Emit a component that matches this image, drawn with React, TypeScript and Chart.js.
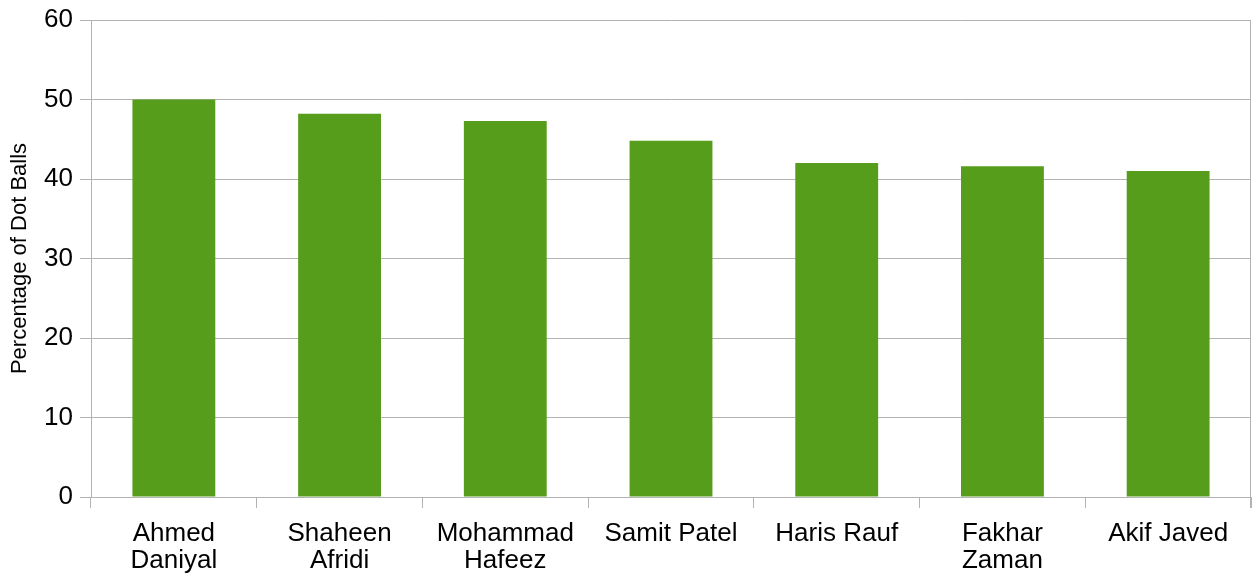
import React, { useEffect, useRef } from "react";
import { Chart, registerables } from "chart.js";

Chart.register(...registerables);

const categories: string[][] = [
  ["Ahmed", "Daniyal"],
  ["Shaheen", "Afridi"],
  ["Mohammad", "Hafeez"],
  ["Samit Patel"],
  ["Haris Rauf"],
  ["Fakhar", "Zaman"],
  ["Akif Javed"],
];
const dotBallPct: number[] = [50.0, 48.2, 47.3, 44.8, 42.0, 41.6, 41.0];
const yTitle = "Percentage of Dot Balls";

const GRID = "#b3b3b3";
const BAR = "#579d1c";
const FONT = "'Liberation Sans', Arial, sans-serif";

const rightBorder = {
  id: "rightBorder",
  afterDraw(chart: any) {
    const { ctx, chartArea } = chart;
    ctx.save();
    ctx.strokeStyle = GRID;
    ctx.lineWidth = 1;
    ctx.beginPath();
    const x = Math.round(chartArea.right) - 0.5;
    ctx.moveTo(x, chartArea.top);
    ctx.lineTo(x, chartArea.bottom + 11);
    ctx.stroke();
    ctx.restore();
  },
};

export default function App() {
  const ref = useRef<HTMLCanvasElement | null>(null);
  useEffect(() => {
    if (!ref.current) return;
    const chart = new Chart(ref.current, {
      type: "bar",
      data: {
        labels: categories,
        datasets: [
          {
            data: dotBallPct,
            backgroundColor: BAR,
            borderWidth: 0,
            barPercentage: 0.5,
            categoryPercentage: 1,
          },
        ],
      },
      options: {
        animation: false,
        responsive: false,
        maintainAspectRatio: false,
        layout: { padding: { top: 20, right: 1, left: 0, bottom: 0 } },
        plugins: { legend: { display: false }, tooltip: { enabled: false } },
        scales: {
          x: {
            grid: {
              display: true,
              drawOnChartArea: false,
              drawTicks: true,
              tickLength: 11,
              color: GRID,
              offset: true,
            },
            border: { display: true, color: GRID },
            ticks: {
              color: "#000",
              font: { family: FONT, size: 26, lineHeight: 1.05 },
              padding: 12,
              maxRotation: 0,
              autoSkip: false,
            },
            afterFit: (s: any) => {
              s.height = 78;
              s.paddingLeft = 0;
              s.paddingRight = 0;
            },
          },
          y: {
            min: 0,
            max: 60,
            ticks: {
              stepSize: 10,
              color: "#000",
              font: { family: FONT, size: 26 },
              padding: 7,
            },
            grid: { color: GRID, tickLength: 11, drawTicks: true },
            border: { display: true, color: GRID },
            title: {
              display: true,
              text: yTitle,
              color: "#000",
              font: { family: FONT, size: 22 },
              padding: { top: 7, bottom: 0 },
            },
            afterFit: (s: any) => {
              s.width = 91;
              s.paddingTop = 0;
              s.paddingBottom = 0;
            },
          },
        },
      },
      plugins: [rightBorder],
    });
    return () => chart.destroy();
  }, []);
  return (
    <div style={{ position: "absolute", left: 0, top: 0, width: 1252, height: 575, background: "#fff" }}>
      <canvas ref={ref} width={1252} height={575} style={{ width: 1252, height: 575 }} />
    </div>
  );
}
